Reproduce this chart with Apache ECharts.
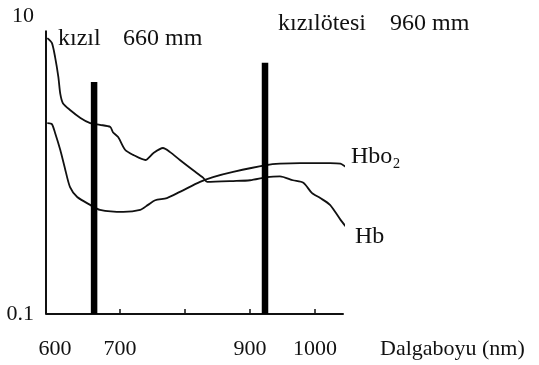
<!DOCTYPE html>
<html>
<head>
<meta charset="utf-8">
<script src="https://cdn.jsdelivr.net/npm/echarts@6/dist/echarts.min.js"></script>
<style>html,body{margin:0;padding:0;background:#fff}#c{width:539px;height:365px}</style>
</head>
<body>
<div id="c"></div>
<script>
// Hb absorption (wavelength nm, value)
const hbX = [588,595,600,605,608,612,623,639,654,669,685,689,697,708,720,739,751,766,777,792,812,828,834,874,900,926,946,966,982,995,1008,1023,1039,1054];
const hbY = [7.1,6.6,5.3,3.9,3.0,2.6,2.34,2.07,1.91,1.86,1.80,1.66,1.54,1.26,1.17,1.08,1.20,1.30,1.22,1.08,0.925,0.82,0.77,0.78,0.79,0.83,0.84,0.79,0.76,0.65,0.60,0.54,0.43,0.355];
// HbO2 absorption
const hbo2X = [588,595,600,608,615,623,634,654,669,705,731,743,754,772,792,823,843,874,926,946,977,1023,1039,1046,1052];
const hbo2Y = [1.91,1.88,1.64,1.26,0.955,0.71,0.61,0.54,0.50,0.484,0.50,0.54,0.58,0.60,0.66,0.77,0.83,0.90,1.00,1.02,1.03,1.03,1.02,0.98,0.94];
// Light source marker bars (wavelength, top value)
const barX = [660, 923];
const barTop = [3.6, 4.85];
const xMin = 586, xMax = 1043;
const yMin = 0.1, yMax = 10, yAxisLineTop = 8;
const xTickLabels = [600, 700, 900, 1000];
const xTicks = [700, 800, 900, 1000];
const yTickLabels = [0.1, 10];
const annotations = ['kızıl', '660 mm', 'kızılötesi', '960 mm'];
const seriesNames = ['Hb', 'Hbo₂'];
const xName = 'Dalgaboyu (nm)';

const FONT = '"Liberation Serif", "DejaVu Serif", serif';
const INK = '#111';

const zip = (xs, ys) => xs.map((x, i) => [x, ys[i]]);

const chart = echarts.init(document.getElementById('c'), null, {renderer: 'canvas'});
const barSeries = barX.map((x, i) => ({
  type: 'line',
  data: [[x, yMin], [x, barTop[i]]],
  symbol: 'none',
  lineStyle: {color: '#000', width: 6.5, cap: 'butt'},
  silent: true,
  z: 3
}));

chart.setOption({
  animation: false,
  backgroundColor: '#fff',
  grid: {left: 46, right: 196, top: 16, bottom: 51, containLabel: false},
  xAxis: {
    type: 'value',
    min: xMin, max: xMax,
    splitLine: {show: false},
    axisLine: {show: true, lineStyle: {color: INK, width: 2}},
    axisTick: {show: true, inside: true, length: 5, customValues: xTicks, lineStyle: {color: INK, width: 1.5}},
    axisLabel: {show: true, customValues: xTickLabels, margin: 24, fontFamily: FONT, fontSize: 22, color: INK, formatter: v => String(v)}
  },
  yAxis: {
    type: 'log',
    logBase: 10,
    min: yMin, max: yMax,
    splitLine: {show: false},
    axisLine: {show: false},
    axisTick: {show: false},
    axisLabel: {
      show: true, margin: 12, fontFamily: FONT, fontSize: 22, color: INK,
      formatter: v => {
        const t = yTickLabels.find(t => Math.abs(t - v) / t < 1e-6);
        return t === undefined ? '' : String(t);
      }
    }
  },
  series: [
    {
      name: seriesNames[0], type: 'line', data: zip(hbX, hbY), symbol: 'none', smooth: 0.25, clip: false,
      lineStyle: {color: INK, width: 1.8},
      endLabel: {show: true, formatter: seriesNames[0], fontFamily: FONT, fontSize: 24, color: INK, offset: [2, 11]},
      markLine: {
        silent: true, symbol: 'none', animation: false,
        label: {show: false},
        lineStyle: {color: INK, width: 2, type: 'solid'},
        data: [[{coord: [xMin, yMin]}, {coord: [xMin, yAxisLineTop]}]]
      }
    },
    {
      name: seriesNames[1], type: 'line', data: zip(hbo2X, hbo2Y), symbol: 'none', smooth: 0.25, clip: false,
      lineStyle: {color: INK, width: 1.8},
      endLabel: {show: true, formatter: seriesNames[1], fontFamily: FONT, fontSize: 24, color: INK, offset: [-2, -10]}
    },
    ...barSeries
  ],
  graphic: [
    {type: 'text', left: 58, top: 27, style: {text: annotations[0], font: '24px ' + FONT, fill: INK}},
    {type: 'text', left: 123, top: 27, style: {text: annotations[1], font: '24px ' + FONT, fill: INK}},
    {type: 'text', left: 278, top: 12, style: {text: annotations[2], font: '24px ' + FONT, fill: INK}},
    {type: 'text', left: 390, top: 12, style: {text: annotations[3], font: '24px ' + FONT, fill: INK}},
    {type: 'text', left: 380, top: 338, style: {text: xName, font: '22px ' + FONT, fill: INK}}
  ]
});
</script>
</body>
</html>
